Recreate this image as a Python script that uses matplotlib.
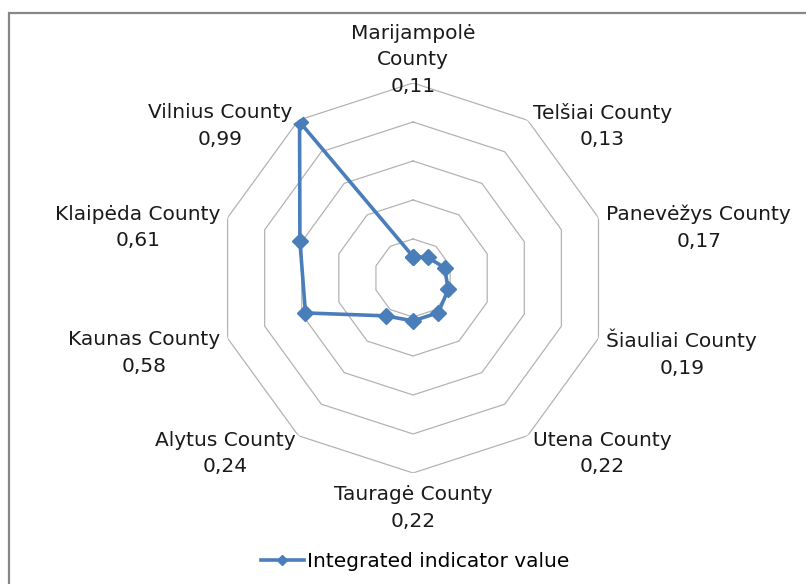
import matplotlib
matplotlib.use('Agg')
import matplotlib.pyplot as plt
import numpy as np
from matplotlib.patches import Rectangle

# data, clockwise from the top
counties = ['Marijampolė\nCounty', 'Telšiai County', 'Panevėžys County', 'Šiauliai County',
            'Utena County', 'Tauragė County', 'Alytus County', 'Kaunas County',
            'Klaipėda County', 'Vilnius County']
values = [0.11, 0.13, 0.17, 0.19, 0.22, 0.22, 0.24, 0.58, 0.61, 0.99]
ring_levels = [0.2, 0.4, 0.6, 0.8, 1.0]
series_name = 'Integrated indicator value'

# label offsets (pixels, y down) from the outer ring vertex, and alignment
label_offsets = [(0, -23), (5, 6), (8, 10), (8, 15), (5, 18),
                 (0, 35), (-3, 18), (-7, 15), (-7, 10), (-6, 6)]
label_ha = ['center', 'left', 'left', 'left', 'left',
            'center', 'right', 'right', 'right', 'right']

LINE_COLOR = '#4a7ebb'
GRID_COLOR = '#b3b3b3'
FS = 14.5

plt.rcParams['font.family'] = ['DejaVu Sans']

fig = plt.figure(figsize=(8.06, 5.84), dpi=100)
ax = fig.add_axes([0.2705, 0.1901, 0.4839, 0.6678], projection='polar')
ax.set_theta_zero_location('N')
ax.set_theta_direction(-1)

n = len(values)
theta = np.arange(n) * 2 * np.pi / n
theta_closed = np.append(theta, theta[0])

# decagon rings
for lev in ring_levels:
    ax.plot(theta_closed, [lev] * (n + 1), color=GRID_COLOR, lw=0.9, zorder=1)

vals_closed = values + [values[0]]
ax.plot(theta_closed, vals_closed, color=LINE_COLOR, lw=2.6, marker='D',
        markersize=8, zorder=3, label=series_name)

ax.set_ylim(0, 1.0)
ax.grid(False)
ax.set_xticks([])
ax.set_yticks([])
ax.spines['polar'].set_visible(False)
ax.patch.set_visible(False)

for i in range(n):
    txt = counties[i] + '\n' + '{:.2f}'.format(values[i]).replace('.', ',')
    dx, dy = label_offsets[i]
    ax.annotate(txt, xy=(theta[i], 1.0), xytext=(dx, -dy), textcoords='offset pixels',
                ha=label_ha[i], va='center', multialignment='center',
                fontsize=FS, color='#1a1a1a', linespacing=1.5, annotation_clip=False)

ax.legend(loc='center', bbox_to_anchor=(0.515, 0.0377), bbox_transform=fig.transFigure,
          frameon=False, fontsize=FS, handlelength=2.1, handletextpad=0.15, markerscale=0.7)

# chart border (only top and left edges visible in the crop)
fig.patches.append(Rectangle((8.5 / 806, -0.1), 1.2, 1.1 - 12.5 / 584,
                             transform=fig.transFigure, fill=False,
                             edgecolor='#878787', lw=1.6))

plt.savefig('out.png', dpi=100)
